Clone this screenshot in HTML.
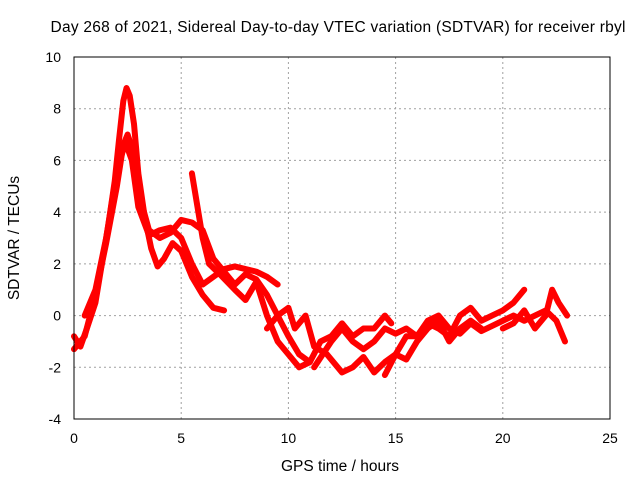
<!DOCTYPE html>
<html><head><meta charset="utf-8"><style>
body{margin:0;background:#fff;}
svg{display:block;font-family:"Liberation Sans",sans-serif;}
</style></head><body>
<svg id="chart" width="640" height="480">
<text x="338" y="32" font-size="15.5" text-anchor="middle" textLength="575">Day 268 of 2021, Sidereal Day-to-day VTEC variation (SDTVAR) for receiver rbyl</text>
<text x="340" y="471" font-size="15.5" text-anchor="middle">GPS time / hours</text>
<text x="19" y="238" font-size="15.5" text-anchor="middle" transform="rotate(-90 19 238)">SDTVAR / TECUs</text>
<g id="grid"></g><g id="series"></g>
<rect x="74" y="57" width="536" height="362" fill="none" stroke="#000"/>
</svg>
<script>
const xTicks=[0,5,10,15,20,25];
const yTicks=[-4,-2,0,2,4,6,8,10];
const s1=[[0,-0.8],[0.3,-1.2],[0.6,-0.5],[1,0.5],[1.3,2],[1.6,3.5],[1.9,5.2],[2.1,6.8],[2.3,8.3],[2.45,8.8],[2.6,8.5],[2.8,7.4],[3,5.5],[3.3,3.8],[3.6,2.6],[3.9,1.9],[4.2,2.2],[4.6,2.8],[5,2.5],[5.5,1.5],[6,0.8],[6.5,0.3],[7,0.2]];
const s2=[[0,-1.3],[0.5,-0.8],[1,0.8],[1.5,2.8],[2,5],[2.3,6.6],[2.5,7],[2.7,6.5],[3,4.8],[3.5,3.3],[4,3],[4.5,3.2],[5,3.7],[5.5,3.6],[6,3.3],[6.5,2.2],[7,1.7],[7.5,1.2],[8,1.6],[8.5,1.4],[9,0.8],[9.5,0],[10,-0.8],[10.5,-1.5],[11,-1.8]];
const s3=[[0.5,0],[1,1],[1.5,3],[2,5.6],[2.4,6.7],[2.7,6],[3,4.2],[3.5,3.1],[4,3.3],[4.5,3.4],[5,3],[5.5,2],[6,1.2],[6.5,1.5],[7,1.8],[7.5,1.9],[8,1.8],[8.5,1.7],[9,1.5],[9.5,1.2]];
const s4=[[5.5,5.5],[5.8,4],[6,3],[6.3,2],[6.8,1.6],[7.5,1],[8,0.6],[8.5,1.3],[9,0],[9.5,-1],[10,-1.5],[10.5,-2],[11,-1.8],[11.5,-1],[12,-0.8],[12.5,-0.3],[13,-0.8],[13.5,-0.5],[14,-0.5],[14.5,0],[14.8,-0.3]];
const s5=[[9,-0.5],[9.5,0],[10,0.3],[10.3,-0.5],[10.8,0],[11.2,-1.2],[11.8,-1.5],[12.5,-2.2],[13,-2],[13.5,-1.6],[14,-2.2],[14.5,-1.8],[15,-1.5],[15.5,-1.7],[16,-1],[16.5,-0.5],[17,-0.2],[17.5,-1],[18,-0.5],[18.5,-0.2],[19,-0.5]];
const s6=[[11.2,-2],[12,-1],[12.5,-0.5],[13,-1],[13.5,-1.3],[14,-1],[14.5,-0.5],[15,-0.7],[15.5,-0.5],[16,-0.8],[16.5,-0.2],[17,0],[17.5,-0.5],[18,-0.7],[18.5,-0.3],[19,-0.6],[19.5,-0.4],[20,-0.2],[20.5,0],[21,-0.2],[21.5,0],[22,0.2],[22.5,-0.2],[22.9,-1]];
const s7=[[14.5,-2.3],[15,-1.5],[15.5,-0.8],[16,-0.8],[16.5,-0.3],[17,-0.5],[17.5,-0.8],[18,0],[18.5,0.3],[19,-0.2],[19.5,0],[20,0.2],[20.5,0.5],[21,1]];
const s8=[[20,-0.5],[20.5,-0.3],[21,0.2],[21.5,-0.5],[22,0],[22.3,1],[22.6,0.5],[23,0]];
const allSeries=[s1,s2,s3,s4,s5,s6,s7,s8];
const X=v=>74+v*(536/25), Y=v=>419-(v+4)*(362/14);
const NS="http://www.w3.org/2000/svg";
const grid=document.getElementById('grid'), ser=document.getElementById('series');
function mk(t,a,p){const e=document.createElementNS(NS,t);for(const k in a)e.setAttribute(k,a[k]);p.appendChild(e);return e;}
xTicks.forEach(t=>{
 if(t>0&&t<25){const l=mk('line',{x1:X(t),x2:X(t),y1:57,y2:419,stroke:'#a0a0a0','stroke-dasharray':'2,3'},grid);
 
 }
 const tx=mk('text',{x:X(t),y:443,'font-size':14,'text-anchor':'middle'},grid);tx.textContent=t;
 
 
});
yTicks.forEach(t=>{
 if(t>-4&&t<10){const l=mk('line',{x1:74,x2:610,y1:Y(t),y2:Y(t),stroke:'#a0a0a0','stroke-dasharray':'2,3'},grid);
 
 }
 const tx=mk('text',{x:61,y:Y(t)+5,'font-size':14,'text-anchor':'end'},grid);tx.textContent=t;
 
 
});
allSeries.forEach((s,i)=>{
 const p=mk('polyline',{points:s.map(d=>X(d[0])+','+Y(d[1])).join(' '),fill:'none',stroke:'#f00','stroke-width':6,'stroke-linejoin':'round','stroke-linecap':'round'},ser);
 
 
});
</script>
</body></html>
